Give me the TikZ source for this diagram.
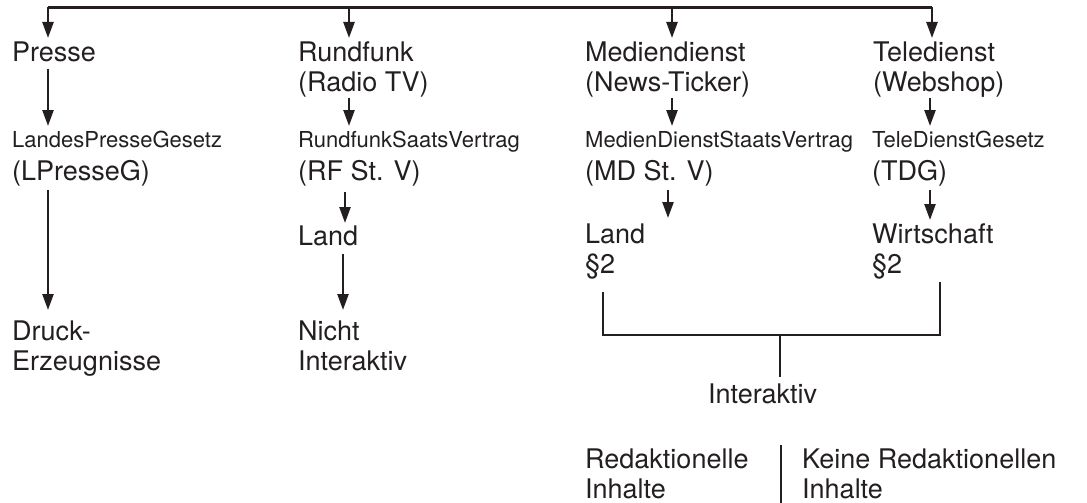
\documentclass[tikz,border=0pt]{standalone}
\usepackage{fontspec}
\setmainfont{TeX Gyre Heros}
\usetikzlibrary{arrows.meta}
\definecolor{ink}{HTML}{231F20}
\begin{document}
\begin{tikzpicture}[x=1pt,y=-1pt,
  lbl/.style={anchor=base west,inner sep=0pt,align=left,text=ink,font=\fontsize{27}{30}\selectfont},
  law/.style={anchor=base west,inner sep=0pt,text=ink,font=\fontsize{22}{25}\selectfont},
  arr/.style={line width=2.4pt,draw=ink,-{Triangle[length=16pt,width=11pt]}},
  ln/.style={line width=2.4pt,draw=ink}]
\useasboundingbox (0,0) rectangle (1087,503);
% columns
\coordinate (cA) at (48,7.5);
\coordinate (cB) at (349,7.5);
\coordinate (cC) at (672,7.5);
\coordinate (cD) at (932,7.5);
\coordinate (cB2) at (345,0);
\coordinate (cB3) at (343,0);
\coordinate (cC2) at (668,0);
\coordinate (cD2) at (930,0);
% texts (base anchor of a multi-line node is its last line)
\node[lbl] (presse) at (12,62) {Presse};
\node[lbl] (rundfunk) at (298,92) {Rundfunk\\(Radio TV)};
\node[lbl] (medien) at (585,92) {Mediendienst\\(News-Ticker)};
\node[lbl] (tele) at (873,92) {Teledienst\\(Webshop)};
\node[law] (lpg) at (12,147) {LandesPresseGesetz};
\node[law] (rfsv) at (298,147) {RundfunkSaatsVertrag};
\node[law] (mdsv) at (585,147) {MedienDienstStaatsVertrag};
\node[law] (tdg) at (872,147) {TeleDienstGesetz};
\node[lbl] (lpgA) at (12,180) {(LPresseG)};
\node[lbl] (rfsvA) at (298,180) {(RF St. V)};
\node[lbl] (mdsvA) at (585,180) {(MD St. V)};
\node[lbl] (tdgA) at (872,180) {(TDG)};
\node[lbl] (rland) at (298,245) {Land};
\node[lbl] (mland) at (585,273) {Land\\§2};
\node[lbl] (wirt) at (872,273) {Wirtschaft\\§2};
\node[lbl] (druck) at (12,370) {Druck-\\Erzeugnisse};
\node[lbl] (nicht) at (298,370) {Nicht\\Interaktiv};
\node[lbl] (inter) at (708,403) {Interaktiv};
\node[lbl] (red) at (585,498) {Redaktionelle\\Inhalte};
\node[lbl] (keine) at (802,498) {Keine Redaktionellen\\Inhalte};
% top bar
\draw[ln] (cA) -- (cD);
\draw[arr] (cA) -- (48,38);
\draw[arr] (cB) -- (349,38);
\draw[arr] (cC) -- (672,38);
\draw[arr] (cD) -- (932,38);
% second level
\draw[arr] (cA |- presse.south) ++(0,6) -- (48,126);
\draw[arr] (cB |- rundfunk.south) -- (349,126);
\draw[arr] (cC |- medien.south) -- (672,126);
\draw[arr] (cD2 |- tele.south) -- (930,126);
% third level
\draw[arr] (cA |- lpgA.south) ++(0,4) -- (48,310);
\draw[arr] (cB2 |- rfsvA.south) ++(0,6) -- (345,223);
\draw[arr] (cB3 |- rland.south) ++(0,8) -- (343,310);
\draw[arr] (cC2 |- mdsvA.south) ++(0,4) -- (668,218);
\draw[arr] (cD2 |- tdgA.south) ++(0,4) -- (930,220);
% bracket
\coordinate (bl) at (603,335);
\coordinate (br) at (940,335);
\coordinate (bm) at (780,335);
\draw[ln] (603,292) -- (bl) -- (br) -- (940,282);
\draw[ln] (bm) -- (780,377);
% separator
\draw[ln] (781,445) -- (781,503);
\end{tikzpicture}
\end{document}
